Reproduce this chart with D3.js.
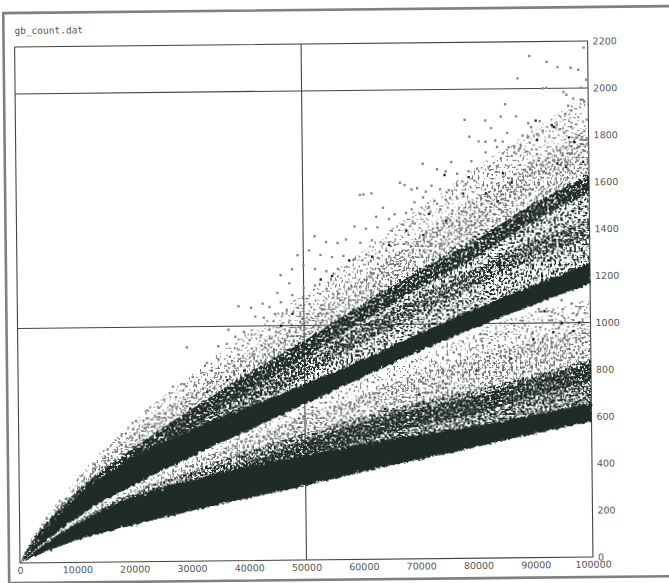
<!DOCTYPE html>
<html>
<head>
<meta charset="utf-8">
<script src="https://cdn.jsdelivr.net/npm/d3@7"></script>
<style>
html, body { margin: 0; background: #fff; }
svg { display: block; }
.tick text { font-family: "DejaVu Sans"; font-size: 9.5px; fill: #555; }
</style>
</head>
<body>
<div id="chart"></div>
<script>
// values: x samples and the edges of each dense band
var xSamples   = [0, 2000, 5000, 10000, 20000, 30000, 40000, 50000, 60000, 70000, 80000, 90000, 100000];
var lowFloor   = [0, 22, 52, 96, 158, 215, 268, 318, 375, 425, 475, 530, 578];
var lowSolid   = [0, 36, 90, 165, 280, 345, 400, 445, 495, 530, 565, 610, 655];
var lowDense   = [0, 37, 92, 170, 295, 380, 470, 540, 610, 670, 720, 780, 840];
var lowMedium  = [0, 38, 95, 178, 310, 415, 525, 620, 700, 785, 850, 930, 980];
var lowSparse  = [0, 39, 100, 185, 325, 440, 550, 655, 765, 870, 970, 1050, 1100];
var highFloor  = [0, 40, 100, 190, 328, 445, 555, 665, 775, 885, 985, 1078, 1165];
var highSolid  = [0, 60, 150, 275, 445, 560, 655, 750, 850, 960, 1065, 1160, 1255];
var highDense  = [0, 95, 185, 295, 490, 640, 800, 940, 1090, 1240, 1375, 1510, 1640];
var highMedium = [0, 100, 195, 325, 550, 715, 890, 1040, 1200, 1370, 1530, 1680, 1830];
var highSparse = [0, 105, 205, 355, 600, 790, 975, 1135, 1310, 1490, 1660, 1820, 1970];
var streakX    = [0, 2000, 5000, 10000, 20000, 30000, 40000, 50000, 60000, 70000, 80000, 90000, 100000];
var upperMid   = [0, 75, 160, 270, 450, 610, 760, 900, 1050, 1190, 1320, 1470, 1590];
var innerMid   = [0, 70, 145, 250, 410, 550, 690, 820, 960, 1080, 1200, 1310, 1400];
var lowerMid   = [0, 30, 75, 135, 215, 300, 385, 470, 545, 605, 655, 725, 785];
var greyDots = [[99300,2172],[89800,2139],[92800,2113],[94700,2090],[97000,2087],[98300,2078],[87700,2044],[99700,2035],[92100,2000],[92700,2002],[98700,2001],[95700,1984],[96200,1972],[97400,1955],[98700,1950],[99300,1940],[85500,1934],[96500,1925],[97000,1905],[96000,1890],[78400,1870],[82000,1866],[84700,1882],[87400,1882],[99700,1865],[91500,1860],[94500,1845],[90000,1835],[89500,1852],[83000,1833],[79200,1797],[80800,1777],[82000,1775],[83700,1780],[85000,1775],[85800,1812],[88500,1800],[89500,1795],[91000,1805],[92000,1820],[95000,1825],[95800,1810],[97000,1835],[98800,1790],[99700,1780],[86000,1750],[87000,1755],[88000,1745],[84000,1752],[82000,1730],[85000,1725],[87000,1728],[89000,1732],[91000,1720],[93000,1720],[95000,1735],[96000,1745],[97000,1720],[98000,1745],[99000,1735],[71000,1684],[76000,1690],[79500,1693],[73500,1660],[75000,1650],[77000,1640],[79000,1650],[80500,1660],[82500,1665],[84000,1668],[86000,1670],[88000,1675],[90000,1680],[92000,1672],[94000,1690],[96000,1685],[98000,1690],[67000,1604],[67800,1594],[60000,1554],[60600,1556],[62000,1560],[69000,1575],[70000,1580],[71500,1565],[72500,1590],[74000,1575],[75500,1570],[77000,1590],[78500,1595],[80000,1610],[81500,1590],[83000,1600],[85000,1625],[87000,1635],[88500,1610],[90500,1640],[92500,1640],[94000,1655],[96500,1650],[98500,1660],[99500,1640],[69500,1520],[71000,1540],[73000,1525],[75000,1530],[77000,1535],[79000,1520],[81000,1545],[83000,1510],[85000,1530],[64000,1498],[66000,1470],[62800,1460],[65000,1450],[68000,1475],[69000,1490],[70500,1470],[72000,1500],[74000,1490],[76000,1470],[78000,1480],[80000,1455],[82000,1460],[59000,1420],[61000,1410],[63000,1415],[65500,1400],[67500,1425],[69500,1430],[71500,1395],[73500,1410],[75500,1415],[77500,1400],[79500,1420],[52000,1380],[54000,1355],[56000,1350],[57500,1365],[60000,1350],[62000,1360],[64000,1345],[66000,1340],[68000,1350],[70000,1335],[72000,1350],[74000,1340],[49000,1300],[51000,1320],[53000,1300],[55000,1290],[57000,1295],[59000,1280],[61000,1300],[63000,1285],[65000,1290],[67000,1270],[46000,1215],[48000,1240],[50000,1255],[52000,1240],[54000,1230],[56000,1240],[58000,1215],[60000,1230],[62000,1215],[64000,1205],[38600,1085],[40800,1078],[42800,1095],[45400,1140],[47500,1180],[44000,1080],[46000,1100],[48000,1130],[50000,1160],[52000,1170],[54000,1155],[41500,1040],[43000,1035],[45000,1050],[47000,1065],[49000,1075],[51000,1090],[53000,1085],[29500,912],[36800,985],[38000,955],[39500,975],[35000,915],[36500,925],[38500,900],[40500,940],[42500,960],[44000,985],[33000,845],[35000,860],[37000,870],[39000,850],[41000,880],[30500,785],[32500,795],[34500,800],[36500,810],[27000,745],[29000,755],[31000,750],[33500,760],[25500,690],[27500,700],[29500,710],[22500,645],[24500,655],[26500,665],[28500,670],[20500,600],[22500,610],[24500,615],[18000,545],[20000,565],[22000,570],[15500,480],[17500,510],[19500,530],[13000,420],[15000,450],[17000,470],[11000,370],[13000,400],[15000,425],
[91000,1060],[93300,1047],[96800,1082],[98200,1061],[97600,1033],[95000,1096],[93300,1011],[99000,1040],[86700,990],[83500,955],[85200,955],[87500,940],[89900,961],[92000,945],[94500,980],[96000,1000],[98500,990],[81000,925],[79000,890],[77000,870],[75000,845],[73000,835],[84000,905],[86000,885],[88000,890],[90000,905],[92000,890],[94000,900],[96000,925],[98000,930],[70000,790],[72000,800],[74000,810],[76000,820],[78000,845],[80000,860],[82000,875],[66000,750],[68000,770],[70000,760],[64000,730],[62000,705],[60000,690],[58000,670],[56000,645],[54000,625],[52000,615],[50000,585],[48000,560],[46000,540],[44000,520],[42000,510],[40000,485],[37000,450],[34000,420],[31000,380],[28000,345],[25000,305],[22000,285]];
var darkDots = [[90800,1863],[93600,1843],[94000,1835],[96600,1790],[91000,1780],[97500,1770],[94500,1680],[96000,1665],[99000,1685],[74800,1635],[79000,1625],[85000,1640],[86500,1600],[78000,1555],[82000,1555],[84000,1520],[72000,1470],[68000,1400],[75000,1440],[71000,1380],[65000,1340],[62000,1290],[58000,1275],[55000,1210],[53000,1195],[48000,1050],[46000,1000],[39500,810],[36500,770],[33000,720],[24000,520],[30000,650],[27500,590],[92000,1050],[95000,1000],[98000,1000],[97000,965],[93500,960],[90000,930],[86000,850],[80000,800],[70000,700],[64000,640]];
var xTickVals = [0, 10000, 20000, 30000, 40000, 50000, 60000, 70000, 80000, 90000, 100000];
var yTickVals = [0, 200, 400, 600, 800, 1000, 1200, 1400, 1600, 1800, 2000, 2200];
var gridX = [50000];
var gridY = [1000, 2000];
var title = "gb_count.dat";

var W = 669, H = 583, plotW = 573, plotH = 516;

var x = d3.scaleLinear().domain([0, 100000]).range([0, plotW]);
var y = d3.scaleLinear().domain([0, 2200]).range([0, -plotH]);

var svg = d3.select("#chart").append("svg").attr("width", W).attr("height", H);

// speckle filters: the cloud is too dense to list point by point
var defs = svg.append("defs");
function newFilter(id) {
    return defs.append("filter").attr("id", id)
        .attr("filterUnits", "userSpaceOnUse")
        .attr("x", -20).attr("y", -540).attr("width", 620).attr("height", 560)
        .attr("color-interpolation-filters", "sRGB");
}
function speckle(id, cut, seed) {
    var f = newFilter(id);
    f.append("feTurbulence").attr("type", "fractalNoise").attr("baseFrequency", 0.45)
        .attr("numOctaves", 1).attr("seed", seed).attr("result", "n");
    f.append("feColorMatrix").attr("in", "n").attr("type", "matrix")
        .attr("values", "0 0 0 0 0  0 0 0 0 0  0 0 0 0 0  18 0 0 0 " + (-18 * cut)).attr("result", "m");
    f.append("feComposite").attr("in", "SourceGraphic").attr("in2", "m").attr("operator", "in");
}
speckle("sp-faint", 0.60, 3);
speckle("sp-sparse", 0.55, 13);
speckle("sp-medium", 0.50, 7);
speckle("sp-dense", 0.45, 11);
speckle("sp-heavy", 0.41, 5);

var rough = newFilter("rough");
rough.append("feTurbulence").attr("type", "fractalNoise").attr("baseFrequency", 0.3)
    .attr("numOctaves", 2).attr("seed", 9).attr("result", "n");
rough.append("feDisplacementMap").attr("in", "SourceGraphic").attr("in2", "n").attr("scale", 6)
    .attr("xChannelSelector", "R").attr("yChannelSelector", "G");

// the scan is slightly rotated
var g = svg.append("g").attr("transform", "translate(20,563) rotate(-0.6)");

g.append("rect").attr("x", -11).attr("y", -550).attr("width", 700).attr("height", 570)
    .attr("fill", "none").attr("stroke", "#808080").attr("stroke-width", 2.6);

g.append("text").attr("x", 0).attr("y", -529)
    .attr("font-family", "DejaVu Sans Mono").attr("font-size", 9.5).attr("fill", "#555")
    .text(title);

// grid and frame
g.selectAll(".gx").data(gridX).enter().append("line")
    .attr("x1", function(d) { return x(d); }).attr("x2", function(d) { return x(d); })
    .attr("y1", 0).attr("y2", -plotH).attr("stroke", "#444").attr("stroke-width", 1.1);
g.selectAll(".gy").data(gridY).enter().append("line")
    .attr("x1", 0).attr("x2", plotW)
    .attr("y1", function(d) { return y(d); }).attr("y2", function(d) { return y(d); })
    .attr("stroke", "#444").attr("stroke-width", 1.1);
g.append("rect").attr("width", plotW).attr("height", plotH).attr("y", -plotH)
    .attr("fill", "none").attr("stroke", "#444").attr("stroke-width", 1.1);

// one band between two edges
function band(xs, lo, hi, color, filter) {
    var area = d3.area()
        .x(function(d) { return x(xs[d]); })
        .y0(function(d) { return y(lo[d]); })
        .y1(function(d) { return y(hi[d]); })
        .curve(d3.curveMonotoneX);
    var p = g.append("path").attr("d", area(d3.range(xs.length))).attr("fill", color);
    if (filter) p.attr("filter", "url(#" + filter + ")");
}
function widen(mid, half) {
    return mid.map(function(d) { return d + half * Math.min(1, d / 300); });
}

var GREY = "#6f7371", DARK = "#1e2b26";

// upper cloud
band(xSamples, highFloor, highSparse, GREY, "sp-faint");
band(xSamples, highFloor, highMedium, GREY, "sp-sparse");
band(xSamples, highFloor, highDense, DARK, "sp-sparse");
band(streakX, widen(upperMid, -40), widen(upperMid, 35), DARK, "sp-heavy");
band(streakX, widen(innerMid, -40), widen(innerMid, 35), DARK, "sp-medium");
band(xSamples, highFloor, highSolid, DARK, "rough");

// lower cloud
band(xSamples, lowFloor, lowSparse, GREY, "sp-faint");
band(xSamples, lowFloor, lowMedium, GREY, "sp-sparse");
band(xSamples, lowFloor, lowDense, DARK, "sp-medium");
band(streakX, widen(lowerMid, -38), widen(lowerMid, 38), DARK, "sp-dense");
band(xSamples, lowFloor, lowSolid, DARK, "rough");

// separate points at the edge of the cloud
function dots(list, color) {
    g.selectAll(null).data(list).enter().append("rect")
        .attr("x", function(d) { return x(d[0]) - 1.2; })
        .attr("y", function(d) { return y(d[1]) - 1.2; })
        .attr("width", 2.4).attr("height", 2.4)
        .attr("fill", color);
}
dots(greyDots, "#8a8c8b");
dots(darkDots, DARK);

// axes, labels only
var xAxis = d3.axisBottom(x).tickValues(xTickVals).tickSize(0).tickPadding(4).tickFormat(d3.format("d"));
var yAxis = d3.axisRight(y).tickValues(yTickVals).tickSize(0).tickPadding(5).tickFormat(d3.format("d"));
g.append("g").call(xAxis).call(function(s) { s.select(".domain").remove(); });
g.append("g").attr("transform", "translate(" + plotW + ",0)").call(yAxis)
    .call(function(s) { s.select(".domain").remove(); });
</script>
</body>
</html>
